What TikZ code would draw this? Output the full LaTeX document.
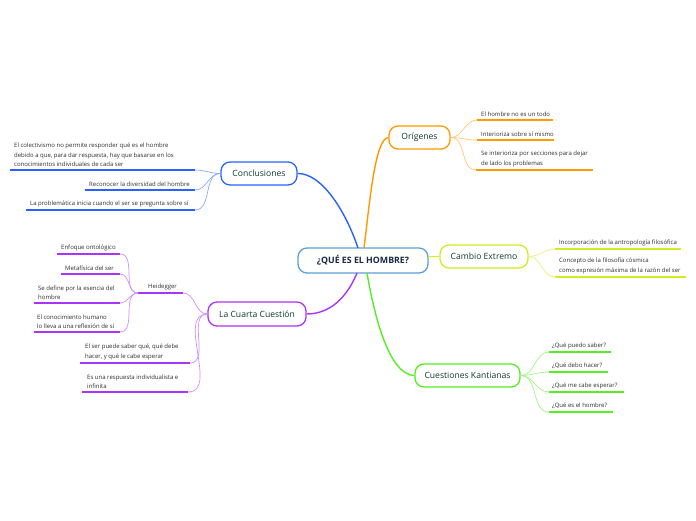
\documentclass[tikz,border=0pt]{standalone}
\usepackage{fontspec}
\setmainfont{Open Sans}
\definecolor{cB}{RGB}{41,98,255}
\definecolor{cO}{RGB}{255,153,0}
\definecolor{cY}{RGB}{204,238,34}
\definecolor{cG}{RGB}{85,238,34}
\definecolor{cP}{RGB}{170,51,255}
\definecolor{cRoot}{RGB}{90,160,210}
\definecolor{nodetext}{RGB}{16,60,44}
\definecolor{roottext}{RGB}{25,40,70}
\definecolor{leaftext}{RGB}{45,45,45}
\begin{document}
\begin{tikzpicture}[x=1pt,y=-1pt,
  mainbox/.style={draw, rounded corners=9pt, fill=white, line width=1.3pt,
    font=\fontsize{8.6}{10}\selectfont, text=nodetext, inner sep=0pt, minimum height=23pt},
  leaf/.style={anchor=south west, inner sep=0pt, align=left,
    font=\fontsize{6}{9.5}\selectfont, text=leaftext},
  uline/.style={line width=1.9pt},
  conn/.style={line width=1.4pt},
  subconn/.style={line width=0.7pt}]
\useasboundingbox (0,0) rectangle (696,520);

\coordinate (rb) at (358,248);
\coordinate (ro) at (364,248);
\coordinate (rp) at (357,273);
\coordinate (rg) at (367,273);
\coordinate (ry) at (428,256.5);

% ---------- nodes ----------
\node[mainbox, draw=cRoot, text=roottext, minimum width=130pt, minimum height=25pt,
  font=\fontsize{8.8}{10}\selectfont\bfseries] (root) at (363,260.5) {¿QUÉ ES EL HOMBRE?};
\node[mainbox, draw=cB, minimum width=76pt] (conc) at (259,173.5) {Conclusiones};
\node[mainbox, draw=cO, minimum width=61pt] (orig) at (419.5,137.5) {Orígenes};
\node[mainbox, draw=cY, minimum width=88pt] (camb) at (484,256.5) {Cambio Extremo};
\node[mainbox, draw=cG, minimum width=105pt] (kant) at (467.5,375.5) {Cuestiones Kantianas};
\node[mainbox, draw=cP, minimum width=98pt, minimum height=24pt] (cuarta) at (257,314) {La Cuarta Cuestión};

\draw[conn, cB] (rb) .. controls (346,212) and (322,173) .. (conc.east);
\draw[conn, cO] (ro) .. controls (370,200) and (375,139) .. (orig.west);
\draw[conn, cY] (ry) -- (camb.west);
\draw[conn, cP] (rp) .. controls (350,290) and (335,314) .. (cuarta.east);
\draw[conn, cG] (rg) .. controls (375,320) and (390,375) .. (kant.west);

% ---------- Conclusiones leaves ----------
\coordinate (c1l) at (10,170);  \coordinate (c1r) at (195,170);
\coordinate (c2l) at (85,190);  \coordinate (c2r) at (195,190);
\coordinate (c3l) at (26,210);  \coordinate (c3r) at (195,210);
\draw[uline, cB] (c1l) -- (c1r);
\draw[uline, cB] (c2l) -- (c2r);
\draw[uline, cB] (c3l) -- (c3r);
\node[leaf] (c1) at (14,167) {El colectivismo no permite responder qué es el hombre\\debido a que, para dar respuesta, hay que basarse en los\\conocimientos individuales de cada ser};
\node[leaf] (c2) at (89,187) {Reconocer la diversidad del hombre};
\node[leaf] (c3) at (30,207) {La problemática inicia cuando el ser se pregunta sobre sí};
\draw[subconn, cB!55] (conc.west) to[out=180,in=0] (c1r);
\draw[subconn, cB!55] (conc.west) to[out=180,in=0] (c2r);
\draw[subconn, cB!55] (conc.west) to[out=180,in=0] (c3r);

% ---------- Origenes leaves ----------
\coordinate (o1l) at (477,120); \coordinate (o1r) at (553,120);
\coordinate (o2l) at (477,140); \coordinate (o2r) at (554,140);
\coordinate (o3l) at (476,170); \coordinate (o3r) at (593,170);
\draw[uline, cO] (o1l) -- (o1r);
\draw[uline, cO] (o2l) -- (o2r);
\draw[uline, cO] (o3l) -- (o3r);
\node[leaf] (o1) at (481,117) {El hombre no es un todo};
\node[leaf] (o2) at (481,137) {Interioriza sobre sí mismo};
\node[leaf] (o3) at (481,167) {Se interioriza por secciones para dejar\\de lado los problemas};
\draw[subconn, cO!55] (orig.east) to[out=0,in=180] (o1l);
\draw[subconn, cO!55] (orig.east) to[out=0,in=180] (o2l);
\draw[subconn, cO!55] (orig.east) to[out=0,in=180] (o3l);

% ---------- Cambio Extremo leaves ----------
\coordinate (y1l) at (555,249); \coordinate (y1r) at (681,249);
\coordinate (y2l) at (555,277); \coordinate (y2r) at (686,277);
\draw[uline, cY] (y1l) -- (y1r);
\draw[uline, cY] (y2l) -- (y2r);
\node[leaf] (y1) at (559,246) {Incorporación de la antropología filosófica};
\node[leaf] (y2) at (559,274) {Concepto de la filosofía cósmica\\como expresión máxima de la razón del ser};
\draw[subconn, cY!60] (camb.east) to[out=0,in=180] (y1l);
\draw[subconn, cY!60] (camb.east) to[out=0,in=180] (y2l);

% ---------- Cuestiones Kantianas leaves ----------
\coordinate (k1l) at (549,352); \coordinate (k1r) at (611,352);
\coordinate (k2l) at (549,372); \coordinate (k2r) at (608,372);
\coordinate (k3l) at (549,392); \coordinate (k3r) at (624,392);
\coordinate (k4l) at (549,412); \coordinate (k4r) at (613,412);
\draw[uline, cG] (k1l) -- (k1r);
\draw[uline, cG] (k2l) -- (k2r);
\draw[uline, cG] (k3l) -- (k3r);
\draw[uline, cG] (k4l) -- (k4r);
\node[leaf] (k1) at (552,349) {¿Qué puedo saber?};
\node[leaf] (k2) at (552,369) {¿Qué debo hacer?};
\node[leaf] (k3) at (552,389) {¿Qué me cabe esperar?};
\node[leaf] (k4) at (552,409) {¿Qué es el hombre?};
\draw[subconn, cG!55] (kant.east) to[out=0,in=180] (k1l);
\draw[subconn, cG!55] (kant.east) to[out=0,in=180] (k2l);
\draw[subconn, cG!55] (kant.east) to[out=0,in=180] (k3l);
\draw[subconn, cG!55] (kant.east) to[out=0,in=180] (k4l);

% ---------- La Cuarta Cuestion leaves ----------
\coordinate (h0l) at (138,293); \coordinate (h0r) at (183,293);
\draw[uline, cP] (h0l) -- (h0r);
\node[leaf] (heid) at (148,290) {Heidegger};
\draw[subconn, cP!55] (cuarta.west) to[out=180,in=0] (h0r);

\coordinate (h1l) at (57,254);  \coordinate (h1r) at (120,254);
\coordinate (h2l) at (61,274);  \coordinate (h2r) at (120,274);
\coordinate (h3l) at (34,303);  \coordinate (h3r) at (120,303);
\coordinate (h4l) at (34,332);  \coordinate (h4r) at (120,332);
\draw[uline, cP] (h1l) -- (h1r);
\draw[uline, cP] (h2l) -- (h2r);
\draw[uline, cP] (h3l) -- (h3r);
\draw[uline, cP] (h4l) -- (h4r);
\node[leaf] (h1) at (61,251) {Enfoque ontológico};
\node[leaf] (h2) at (65,271) {Metafísica del ser};
\node[leaf] (h3) at (38,300) {Se define por la esencia del\\hombre};
\node[leaf] (h4) at (37,329) {El conocimiento humano\\lo lleva a una reflexión de sí};
\draw[subconn, cP!55] (h0l) to[out=180,in=0] (h1r);
\draw[subconn, cP!55] (h0l) to[out=180,in=0] (h2r);
\draw[subconn, cP!55] (h0l) to[out=180,in=0] (h3r);
\draw[subconn, cP!55] (h0l) to[out=180,in=0] (h4r);

\coordinate (l5l) at (80,363); \coordinate (l5r) at (190,363);
\coordinate (l6l) at (82,392); \coordinate (l6r) at (188,392);
\draw[uline, cP] (l5l) -- (l5r);
\draw[uline, cP] (l6l) -- (l6r);
\node[leaf] (l5) at (85,360) {El ser puede saber qué, qué debe\\hacer, y qué le cabe esperar};
\node[leaf] (l6) at (87,389) {Es una respuesta individualista e\\infinita};
\draw[subconn, cP!55] (cuarta.west) to[out=180,in=0] (l5r);
\draw[subconn, cP!55] (cuarta.west) to[out=180,in=0] (l6r);
\end{tikzpicture}
\end{document}
